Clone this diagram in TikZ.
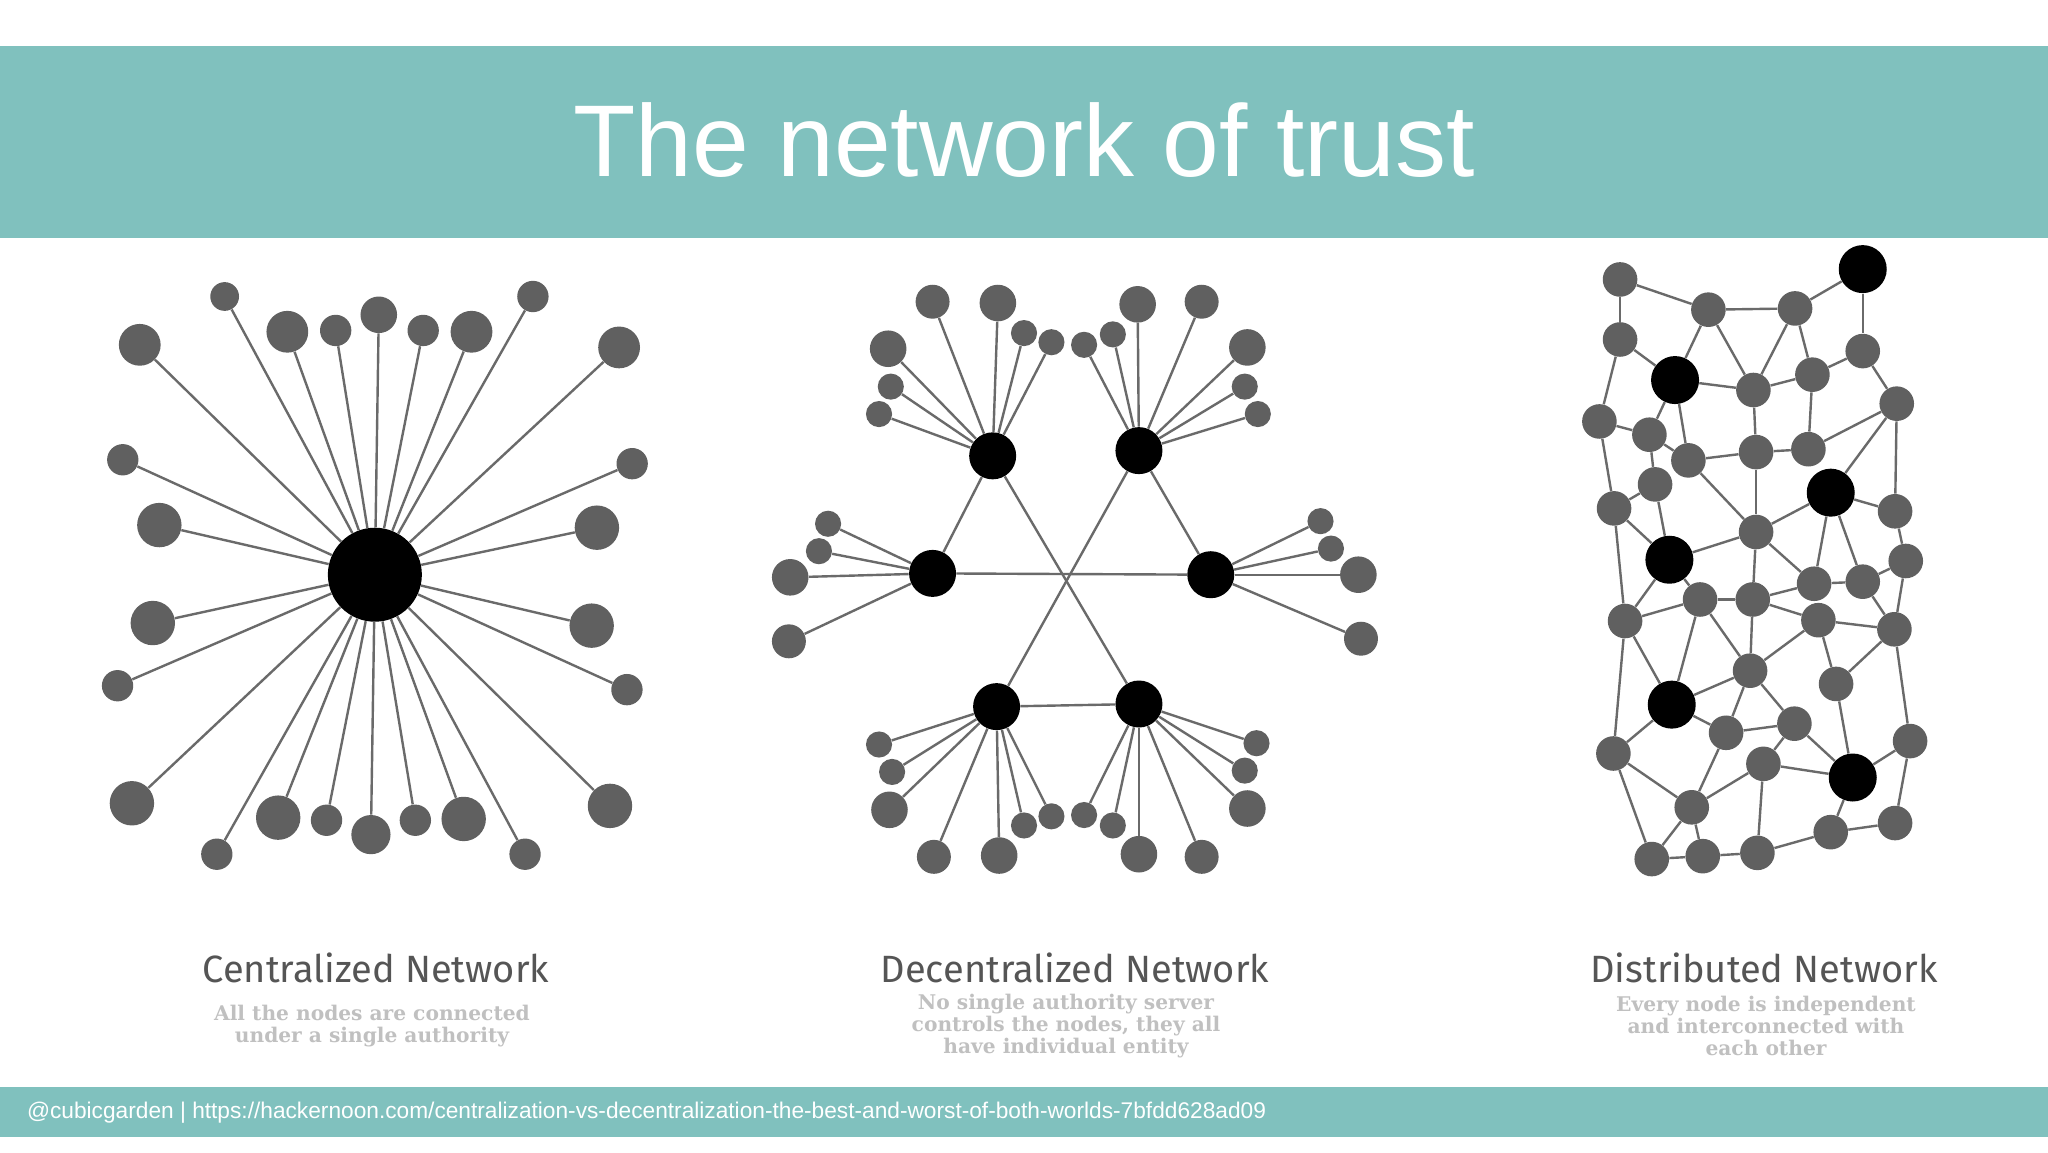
\documentclass[tikz,border=0pt]{standalone}
\usepackage{fontspec}
\setmainfont{Liberation Sans}
\newfontfamily\labfont{Fira Sans}
\newfontfamily\subfont{DejaVu Serif}
\usetikzlibrary{shapes.geometric}
\definecolor{teal}{HTML}{80C1BE}
\definecolor{ng}{HTML}{606060}
\definecolor{lg}{HTML}{6A6A6A}
\definecolor{tg}{HTML}{555555}
\definecolor{sg}{HTML}{C0C0C0}
\begin{document}
\begin{tikzpicture}[x=0.5pt,y=-0.5pt,
  gn/.style={circle,fill=ng,inner sep=0pt,minimum size=#1},
  bn/.style={circle,fill=black,inner sep=0pt,minimum size=#1},
  dg/.style={circle,fill=ng,inner sep=0pt,minimum size=17.3pt},
  db/.style={circle,fill=black,inner sep=0pt,minimum size=24pt},
  ln/.style={draw=lg,line width=1.2pt},
  lab/.style={font=\labfont\fontsize{19}{22}\selectfont,text=tg},
  sub/.style={font=\subfont\bfseries\fontsize{10.1}{11}\selectfont,text=sg,align=center}]
\useasboundingbox (0,0) rectangle (2048,1152);
\fill[white] (0,0) rectangle (2048,1152);
\fill[teal] (0,46) rectangle (2048,238);
\node[text=white,font=\fontsize{51}{60}\selectfont] (title) at (1024,140) {The network of trust};
\fill[teal] (0,1087) rectangle (2048,1137);
\node[text=white,anchor=west,font=\fontsize{11.35}{13}\selectfont] (foot) at (20,1113) {@cubicgarden | https://hackernoon.com/centralization-vs-decentralization-the-best-and-worst-of-both-worlds-7bfdd628ad09};

% labels
\node[lab] (l1) at (376,968) {Centralized Network};
\node[lab] (l2) at (1075,968) {Decentralized Network};
\node[lab] (l3) at (1764,968) {Distributed Network};
\node[sub] (s1) at (372,1026) {All the nodes are connected\\under a single authority};
\node[sub] (s2) at (1066,1026) {No single authority server\\controls the nodes, they all\\have individual entity};
\node[sub] (s3) at (1766,1026) {Every node is independent\\and interconnected with\\each other};

% centralized (display coords)
\begin{scope}[x=0.65306pt,y=-0.65306pt]
\node[bn=47pt] (c0) at (287,440) {};
\foreach \x/\y/\r [count=\i] in {172/227/11,107/264/16,220/254/16,257/253/12,290/241/14,324/253/12,361/254/16,408/227/12,474/266/16,94/352/12,484/355/12,122/402/17,457/404/17,117/477/17,453/479/17,90/525/12,480/528/12,101/615/17,467/617/17,166/654/12,213/626/17,250/628/12,284/639/15,318/628/12,355/627/17,402/654/12}{
  \node[gn=\r*1.306pt] (c\i) at (\x,\y) {};
  \draw[ln] (c\i) -- (c0);
}
% decentralized
\foreach \n/\x/\y in {A/760/349,B/872/345,C/714/439,D/927/440,E/763/541,F/872/539}
  \node[bn=23.5pt] (h\n) at (\x,\y) {};
\draw[ln] (hC) -- (hD); \draw[ln] (hA) -- (hF); \draw[ln] (hB) -- (hE);
\draw[ln] (hA) -- (hC); \draw[ln] (hB) -- (hD); \draw[ln] (hE) -- (hF);
\foreach \h/\x/\y/\r [count=\i] in {A/714/231/13,A/764/232/14,A/784/255/10,A/805/262/10,A/680/267/14,A/682/296/10,A/673/317/10,
 B/830/264/10,B/852/256/10,B/871/233/14,B/920/231/13,B/955/266/14,B/953/296/10,B/963/317/10,
 C/634/401/10,C/627/422/10,C/605/442/14,C/604/491/13,
 D/1011/399/10,D/1019/420/10,D/1040/440/14,D/1042/489/13,
 E/673/570/10,E/683/591/10,E/681/620/14,E/715/656/13,E/765/655/14,E/784/632/10,E/805/625/10,
 F/830/624/10,F/852/632/10,F/872/654/14,F/920/656/13,F/955/619/14,F/953/590/10,F/962/569/10}{
  \node[gn=\r*1.306pt] (e\i) at (\x,\y) {};
  \draw[ln] (e\i) -- (h\h);
}
\end{scope}

% distributed (zoom coords)
\begin{scope}[x=0.1666667pt,y=-0.207pt,shift={(4680,570)}]
\foreach \x/\y/\t [count=\i] in {180/105/dg,445/178/dg,705/175/dg,908/80/db,180/250/dg,345/348/db,580/372/dg,757/335/dg,908/278/dg,118/448/dg,
268/480/dg,385/542/dg,588/522/dg,745/515/dg,1010/405/dg,812/620/db,285/600/dg,162/658/dg,588/715/dg,1005/665/dg,
328/782/db,420/878/dg,578/878/dg,762/840/dg,908/835/dg,1037/785/dg,195/930/dg,775/928/dg,1003/950/dg,570/1050/dg,
828/1082/dg,335/1132/db,498/1200/dg,703/1178/dg,610/1275/dg,1050/1220/dg,878/1308/db,160/1250/dg,395/1380/dg,812/1440/dg,
1005/1418/dg,275/1505/dg,428/1498/dg,592/1490/dg}
  \node[\t] (d\i) at (\x,\y) {};
\foreach \a/\b in {1/2,1/5,2/3,3/4,4/9,2/6,2/7,3/7,3/8,5/6,5/10,6/7,7/8,8/9,9/15,6/11,6/12,10/11,11/12,11/17,10/18,
7/13,12/13,13/14,8/14,14/15,15/16,15/20,12/19,13/19,17/18,17/21,18/21,18/27,19/16,21/19,16/20,16/24,16/25,20/26,
19/23,19/24,21/22,21/27,22/23,23/24,24/25,25/26,26/29,27/22,22/32,22/30,23/30,23/28,25/29,28/29,28/30,28/31,29/31,
29/36,27/32,27/38,30/32,30/33,30/34,32/33,33/34,34/35,33/39,35/39,35/37,34/37,31/37,36/37,36/41,37/40,40/41,35/44,
38/32,38/39,38/42,39/42,39/43,42/43,43/44,44/40}
  \draw[ln] (d\a) -- (d\b);
\end{scope}
\end{tikzpicture}
\end{document}
